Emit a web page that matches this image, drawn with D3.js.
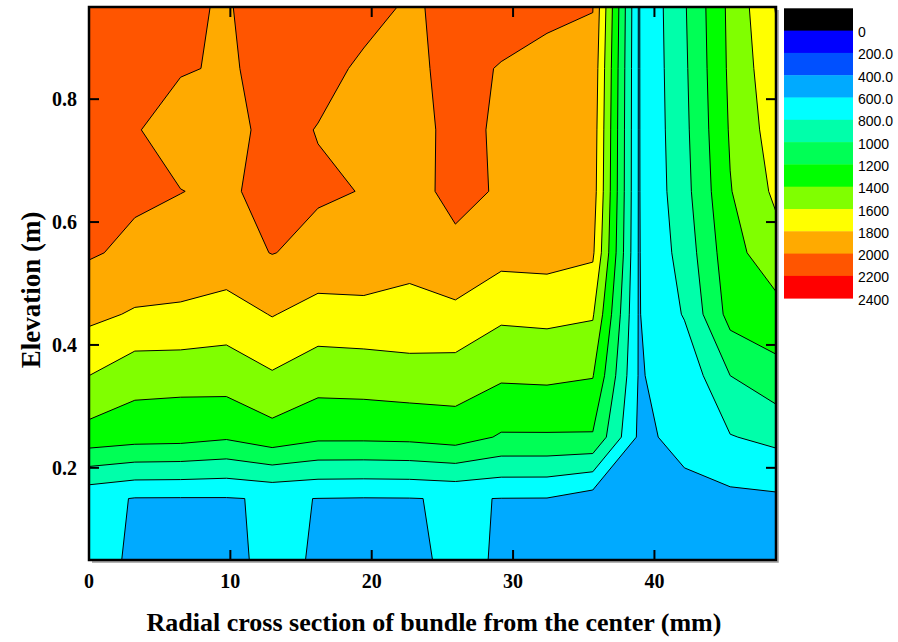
<!DOCTYPE html>
<html>
<head>
<meta charset="utf-8">
<script src="https://cdn.jsdelivr.net/npm/d3@7"></script>
<style>
  body { margin: 0; background: #fff; }
  svg { display: block; }
  .lbl { font-family: "Liberation Serif", "Times New Roman", serif; font-weight: bold; fill: #000; }
  .leg { font-family: "Liberation Sans", Arial, sans-serif; font-size: 14px; fill: #000; }
</style>
</head>
<body>
<svg id="chart" width="898" height="642"></svg>
<script>
// grid nodes: radial position (mm) and elevation (m)
var radius = [0, 3.24, 6.48, 9.72, 12.96, 16.2, 19.44, 22.68, 25.92, 29.16, 32.4, 35.64, 38.88, 42.12, 45.36, 48.6];
var elevation = [0.05, 0.15, 0.25, 0.35, 0.45, 0.55, 0.65, 0.75, 0.85, 0.95];

// temperature on the grid, one row per elevation (bottom row first)
var temp = [
  [700, 560, 540, 560, 640, 585, 550, 570, 630, 588, 560, 540, 500, 520, 540, 540],
  [650, 592, 590, 590, 615, 598, 592, 595, 612, 597, 595, 506, 520, 560, 555, 570],
  [1320, 1280, 1270, 1225, 1320, 1240, 1240, 1250, 1290, 1180, 1180, 1180, 570, 640, 790, 850],
  [1600, 1480, 1470, 1490, 1580, 1490, 1500, 1520, 1510, 1430, 1440, 1410, 590, 660, 1000, 1130],
  [1850, 1780, 1780, 1710, 1810, 1720, 1730, 1740, 1750, 1637, 1650, 1621, 590, 815, 1270, 1330],
  [2020, 1960, 1880, 1935, 2005, 1955, 1960, 1860, 1965, 1870, 1880, 1832, 590, 880, 1330, 1520],
  [2080, 2030, 2005, 1955, 2093, 2017, 1996, 1950, 2040, 1985, 1930, 1900, 590, 930, 1390, 1640],
  [2100, 2020, 1880, 1950, 2043, 1995, 1960, 1960, 2030, 1985, 1940, 1920, 590, 950, 1420, 1700],
  [2100, 2070, 2020, 1975, 2060, 2040, 1980, 1980, 2025, 1995, 1960, 1950, 590, 965, 1440, 1750],
  [2100, 2080, 2040, 1978, 2125, 2050, 2040, 1985, 2030, 2040, 2030, 2005, 590, 980, 1450, 1810]
];

// contour levels and their fill colours
var levels = [0, 200, 400, 600, 800, 1000, 1200, 1400, 1600, 1800, 2000, 2200];
var levelColors = ["#0000ff", "#0050ff", "#00aaff", "#00ffff", "#00ffaa", "#00ff55", "#00ff00", "#80ff00", "#ffff00", "#ffaa00", "#ff5500", "#ff0000"];
var legendLabels = ["0", "200.0", "400.0", "600.0", "800.0", "1000", "1200", "1400", "1600", "1800", "2000", "2200", "2400"];

var xTicks = [0, 10, 20, 30, 40];
var yTicks = [0.2, 0.4, 0.6, 0.8];

var svg = d3.select("svg#chart");

// plot box (note: "top" is reserved on window, so use other names)
var pL = 89, pT = 7, pR = 776, pB = 560;

var x = d3.scaleLinear().domain([0, 48.6]).range([pL, pR]);
var y = d3.scaleLinear().domain([0.05, 0.95]).range([pB, pT]);

// grid index -> data value
var nx = radius.length, ny = elevation.length;
var ix = d3.scaleLinear().domain(d3.range(nx)).range(radius).clamp(true);
var iy = d3.scaleLinear().domain(d3.range(ny)).range(elevation).clamp(true);

var values = [];
temp.forEach(function (row) { row.forEach(function (v) { values.push(v); }); });

var contours = d3.contours().size([nx, ny]).thresholds(levels)(values);

var proj = d3.geoTransform({
  point: function (px, py) {
    this.stream.point(x(ix(px - 0.5)), y(iy(py - 0.5)));
  }
});
var path = d3.geoPath(proj);

svg.append("clipPath").attr("id", "plotclip")
  .append("rect").attr("x", pL).attr("y", pT)
  .attr("width", pR - pL).attr("height", pB - pT);

var plot = svg.append("g").attr("clip-path", "url(#plotclip)");

// black background = below 0
plot.append("rect").attr("x", pL).attr("y", pT)
  .attr("width", pR - pL).attr("height", pB - pT).attr("fill", "#000");

plot.selectAll("path.band")
  .data(contours)
  .enter().append("path")
  .attr("class", "band")
  .attr("d", path)
  .attr("fill", function (d, i) { return levelColors[i]; })
  .attr("stroke", "none");

plot.selectAll("path.iso")
  .data(contours)
  .enter().append("path")
  .attr("class", "iso")
  .attr("d", path)
  .attr("fill", "none")
  .attr("stroke", "#000")
  .attr("stroke-width", 1);

// shadow + frame
svg.append("path")
  .attr("d", "M" + (pR + 2) + "," + (pT + 3) + "V" + (pB + 2) + "H" + (pL + 3))
  .attr("fill", "none").attr("stroke", "#9a9a9a").attr("stroke-width", 1.5);
svg.append("rect")
  .attr("x", pL).attr("y", pT)
  .attr("width", pR - pL).attr("height", pB - pT)
  .attr("fill", "none").attr("stroke", "#000").attr("stroke-width", 2.5);

// ticks, inward on all four sides
var tickLen = 10;
xTicks.forEach(function (t) {
  svg.append("line").attr("x1", x(t)).attr("x2", x(t)).attr("y1", pB).attr("y2", pB - tickLen)
    .attr("stroke", "#000").attr("stroke-width", 2);
  svg.append("line").attr("x1", x(t)).attr("x2", x(t)).attr("y1", pT).attr("y2", pT + tickLen)
    .attr("stroke", "#000").attr("stroke-width", 2);
  svg.append("text").attr("class", "lbl")
    .attr("x", x(t)).attr("y", 588)
    .attr("text-anchor", "middle").style("font-size", "20px")
    .text(t);
});
yTicks.forEach(function (t) {
  svg.append("line").attr("x1", pL).attr("x2", pL + tickLen).attr("y1", y(t)).attr("y2", y(t))
    .attr("stroke", "#000").attr("stroke-width", 2);
  svg.append("line").attr("x1", pR).attr("x2", pR - tickLen).attr("y1", y(t)).attr("y2", y(t))
    .attr("stroke", "#000").attr("stroke-width", 2);
  svg.append("text").attr("class", "lbl")
    .attr("x", 77).attr("y", y(t) + 7)
    .attr("text-anchor", "end").style("font-size", "20px")
    .text(t.toFixed(1));
});

// axis titles
svg.append("text").attr("class", "lbl")
  .attr("x", 434).attr("y", 631)
  .attr("text-anchor", "middle").style("font-size", "26px")
  .text("Radial cross section of bundle from the center (mm)");
svg.append("text").attr("class", "lbl")
  .attr("transform", "translate(40,290) rotate(-90)")
  .attr("text-anchor", "middle").style("font-size", "27px")
  .text("Elevation (m)");

// legend
var legColors = ["#000000"].concat(levelColors);
var legTop = 8.3, legH = 22.3, legX = 784, legW = 69;
legColors.forEach(function (c, i) {
  svg.append("rect").attr("x", legX).attr("y", legTop + i * legH)
    .attr("width", legW).attr("height", legH + 0.4).attr("fill", c);
});
legendLabels.forEach(function (s, i) {
  svg.append("text").attr("class", "leg")
    .attr("x", 858).attr("y", legTop + (i + 1) * legH + 6.5)
    .text(s);
});
</script>
</body>
</html>
